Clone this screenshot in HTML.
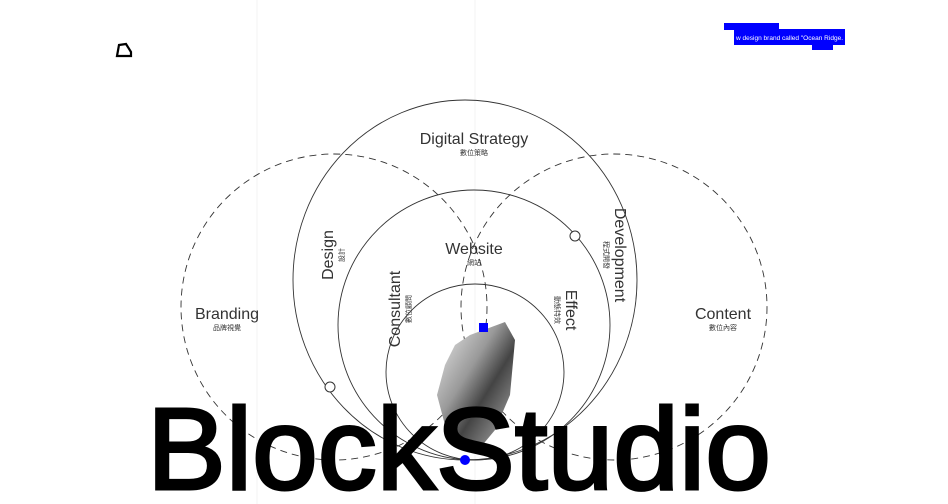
<!DOCTYPE html>
<html><head><meta charset="utf-8"><style>
html,body{margin:0;padding:0;background:#fff;}
body{width:948px;height:504px;position:relative;overflow:hidden;font-family:"Liberation Sans","Noto Sans CJK TC",sans-serif;}
</style></head><body>
<svg width="948" height="504" viewBox="0 0 948 504" style="position:absolute;left:0;top:0">
<defs><linearGradient id="rk" x1="0" y1="0" x2="1" y2="1">
<stop offset="0" stop-color="#eee"/><stop offset="0.4" stop-color="#999"/><stop offset="0.6" stop-color="#444"/><stop offset="1" stop-color="#bbb"/></linearGradient></defs>
<line x1="257" y1="0" x2="257" y2="504" stroke="#f3f3f3"/>
<line x1="475" y1="0" x2="475" y2="504" stroke="#f3f3f3"/>
<path d="M117 56 L119 45 L126 44 L131 52 L131 56 Z" fill="none" stroke="#000" stroke-width="2.2"/>
<g fill="none" stroke="#333" stroke-width="0.9">
<ellipse cx="465" cy="280" rx="172" ry="180"/>
<ellipse cx="474" cy="325" rx="136" ry="135"/>
<ellipse cx="475" cy="372" rx="89" ry="88"/>
</g>
<g fill="none" stroke="#333" stroke-width="0.9" stroke-dasharray="7 5">
<circle cx="334" cy="307" r="153"/>
<circle cx="614" cy="307" r="153"/>
</g>
<circle cx="575" cy="236" r="5" fill="#fff" stroke="#333"/>
<circle cx="330" cy="387" r="5" fill="#fff" stroke="#333"/>
<polygon points="470,335 505,322 515,340 510,395 495,430 480,448 462,440 445,425 437,395 445,365 455,345" fill="url(#rk)"/>
<rect x="479" y="323" width="9" height="9" fill="#0000ff"/>
<text x="474" y="144" font-size="16" text-anchor="middle" fill="#333">Digital Strategy</text>
<text x="474" y="155" font-size="7" text-anchor="middle" fill="#333">數位策略</text>
<text x="474" y="254" font-size="16" text-anchor="middle" fill="#333">Website</text>
<text x="474" y="265" font-size="7" text-anchor="middle" fill="#333">網站</text>
<text x="227" y="319" font-size="16" text-anchor="middle" fill="#333">Branding</text>
<text x="227" y="330" font-size="7" text-anchor="middle" fill="#333">品牌視覺</text>
<text x="723" y="319" font-size="16" text-anchor="middle" fill="#333">Content</text>
<text x="723" y="330" font-size="7" text-anchor="middle" fill="#333">數位內容</text>
<g transform="translate(333,255) rotate(-90)"><text font-size="16" text-anchor="middle" fill="#333">Design</text><text y="11" font-size="7" text-anchor="middle" fill="#333">設計</text></g>
<g transform="translate(615,255) rotate(90)"><text font-size="16" text-anchor="middle" fill="#333">Development</text><text y="11" font-size="7" text-anchor="middle" fill="#333">程式開發</text></g>
<g transform="translate(400,309) rotate(-90)"><text font-size="16" text-anchor="middle" fill="#333">Consultant</text><text y="11" font-size="7" text-anchor="middle" fill="#333">數位顧問</text></g>
<g transform="translate(566,310) rotate(90)"><text font-size="16" text-anchor="middle" fill="#333">Effect</text><text y="11" font-size="7" text-anchor="middle" fill="#333">動態特效</text></g>
<text x="147" y="489" font-size="116" fill="#000" stroke="#000" stroke-width="3" textLength="624" lengthAdjust="spacingAndGlyphs">BlockStudio</text>
<circle cx="465" cy="460" r="5" fill="#0000ff"/>
<rect x="724" y="23" width="55" height="7" fill="#0000ff"/>
<rect x="734" y="29" width="111" height="16" fill="#0000ff"/>
<rect x="812" y="44" width="21" height="6" fill="#0000ff"/>
<text x="736" y="40" font-size="6.5" fill="#fff" textLength="107" lengthAdjust="spacingAndGlyphs">w design brand called "Ocean Ridge.</text>
</svg>
</body></html>
